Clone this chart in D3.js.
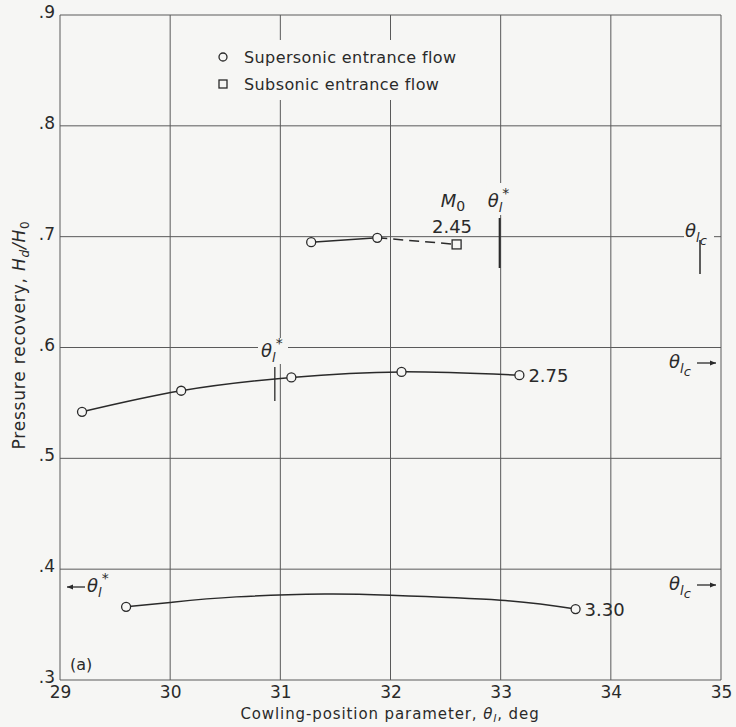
<!DOCTYPE html>
<html>
<head>
<meta charset="utf-8">
<script src="https://cdn.jsdelivr.net/npm/d3@7"></script>
<style>
  body { margin: 0; background: #f6f6f4; }
  svg { display: block; font-family: "DejaVu Sans", sans-serif; }
  .grid line { stroke: #5a5a5a; stroke-width: 1; }
  .lbl { fill: #2a2a2a; }
</style>
</head>
<body>
<script>
// axis ticks
var xTicks = [29, 30, 31, 32, 33, 34, 35];
var yTicks = [0.3, 0.4, 0.5, 0.6, 0.7, 0.8, 0.9];

// M0 = 2.45
var m245Theta = [31.28, 31.88];
var m245Rec = [0.695, 0.699];
var m245SubTheta = [32.6];
var m245SubRec = [0.693];

// M0 = 2.75
var m275Theta = [29.2, 30.1, 31.1, 32.1, 33.17];
var m275Rec = [0.542, 0.561, 0.573, 0.578, 0.575];

// M0 = 3.30 (test points and faired curve)
var m330Theta = [29.6, 33.68];
var m330Rec = [0.366, 0.364];
var m330FairTheta = [29.6, 30.0, 30.6, 31.4, 32.0, 33.0, 33.68];
var m330FairRec = [0.366, 0.370, 0.375, 0.3775, 0.3765, 0.372, 0.364];

var width = 736, height = 727;
var bg = "#f6f6f4";

var x = d3.scaleLinear().domain([29, 35]).range([60, 721]);
var y = d3.scaleLinear().domain([0.3, 0.9]).range([680, 15]);

var svg = d3.select("body").append("svg")
    .attr("width", width)
    .attr("height", height);

svg.append("rect").attr("width", width).attr("height", height).attr("fill", bg);

// grid
var grid = svg.append("g").attr("class", "grid");
grid.selectAll(".gx").data(xTicks).enter().append("line")
    .attr("x1", d => x(d)).attr("x2", d => x(d))
    .attr("y1", y(0.3)).attr("y2", y(0.9));
grid.selectAll(".gy").data(yTicks).enter().append("line")
    .attr("x1", x(29)).attr("x2", x(35))
    .attr("y1", d => y(d)).attr("y2", d => y(d));

// axes (labels only, frame comes from the grid)
var xAxis = svg.append("g")
    .attr("transform", "translate(0," + y(0.3) + ")")
    .call(d3.axisBottom(x).tickValues(xTicks).tickSize(0).tickPadding(6).tickFormat(d3.format("d")));
var yAxis = svg.append("g")
    .attr("transform", "translate(" + x(29) + ",0)")
    .call(d3.axisLeft(y).tickValues(yTicks).tickSize(0).tickPadding(5)
        .tickFormat(d => d3.format(".1f")(d).replace(/^0/, "")));
svg.selectAll(".domain").remove();
svg.selectAll(".tick text").attr("font-size", 17).attr("fill", "#2a2a2a")
    .attr("font-family", "DejaVu Sans, sans-serif");
xAxis.selectAll(".tick text").attr("dy", "0.72em");
yAxis.selectAll(".tick text").attr("dy", "0.15em");

// axis titles
var xt = svg.append("text").attr("class", "lbl")
    .attr("x", 390).attr("y", 719).attr("text-anchor", "middle").attr("font-size", 15)
    .attr("letter-spacing", 0.9);
xt.append("tspan").text("Cowling-position parameter, ");
xt.append("tspan").attr("font-style", "italic").text("θ");
xt.append("tspan").attr("font-style", "italic").attr("font-size", 11).attr("dy", 3).text("l");
xt.append("tspan").attr("dy", -3).text(", deg");

var yt = svg.append("text").attr("class", "lbl")
    .attr("transform", "translate(25,335) rotate(-90)")
    .attr("text-anchor", "middle").attr("font-size", 17).attr("letter-spacing", 0.8);
yt.append("tspan").text("Pressure recovery, ");
yt.append("tspan").attr("font-style", "italic").text("H");
yt.append("tspan").attr("font-style", "italic").attr("font-size", 12).attr("dy", 4).text("d");
yt.append("tspan").attr("font-style", "italic").attr("dy", -4).text("/H");
yt.append("tspan").attr("font-size", 12).attr("dy", 4).text("0");

// legend
svg.append("rect").attr("x", 212).attr("y", 40).attr("width", 255).attr("height", 60).attr("fill", bg);
svg.append("circle").attr("cx", 223).attr("cy", 57).attr("r", 4)
    .attr("fill", bg).attr("stroke", "#2a2a2a").attr("stroke-width", 1.3);
svg.append("rect").attr("x", 219).attr("y", 80).attr("width", 8).attr("height", 8)
    .attr("fill", bg).attr("stroke", "#2a2a2a").attr("stroke-width", 1.3);
svg.append("text").attr("class", "lbl").attr("x", 244).attr("y", 63).attr("font-size", 16)
    .attr("letter-spacing", 0.4).text("Supersonic entrance flow");
svg.append("text").attr("class", "lbl").attr("x", 244).attr("y", 90).attr("font-size", 16)
    .attr("letter-spacing", 0.4).text("Subsonic entrance flow");

// curves
var line = d3.line().x(d => x(d[0])).y(d => y(d[1]));
var curveLine = d3.line().x(d => x(d[0])).y(d => y(d[1])).curve(d3.curveNatural);

function pairs(a, b) { return a.map((v, i) => [v, b[i]]); }

var p245 = pairs(m245Theta, m245Rec);
var p245s = pairs(m245SubTheta, m245SubRec);
var p275 = pairs(m275Theta, m275Rec);
var p330 = pairs(m330Theta, m330Rec);
var p330f = pairs(m330FairTheta, m330FairRec);

var curves = svg.append("g").attr("fill", "none").attr("stroke", "#2a2a2a").attr("stroke-width", 1.5);
curves.append("path").attr("d", line(p245));
curves.append("path").attr("d", line([p245[p245.length - 1], p245s[0]])).attr("stroke-dasharray", "10,6");
curves.append("path").attr("d", curveLine(p275));
curves.append("path").attr("d", curveLine(p330f));

// markers
var marks = svg.append("g").attr("fill", bg).attr("stroke", "#2a2a2a").attr("stroke-width", 1.3);
marks.selectAll(".c").data(p245.concat(p275, p330)).enter().append("circle")
    .attr("cx", d => x(d[0])).attr("cy", d => y(d[1])).attr("r", 4.5);
marks.selectAll(".s").data(p245s).enter().append("rect")
    .attr("x", d => x(d[0]) - 4.5).attr("y", d => y(d[1]) - 4.5)
    .attr("width", 9).attr("height", 9);

// Mach number labels
svg.append("text").attr("class", "lbl").attr("x", 453).attr("y", 207)
    .attr("text-anchor", "middle").attr("font-size", 18).attr("font-style", "italic")
    .text("M").append("tspan").attr("font-style", "normal").attr("font-size", 14).attr("dy", 4).text("0");
svg.append("text").attr("class", "lbl").attr("x", 452).attr("y", 233)
    .attr("text-anchor", "middle").attr("font-size", 18).text("2.45");
svg.append("text").attr("class", "lbl").attr("x", x(33.17) + 9).attr("y", y(0.575) + 7)
    .attr("font-size", 18).text("2.75");
svg.append("text").attr("class", "lbl").attr("x", x(33.68) + 9).attr("y", y(0.364) + 7)
    .attr("font-size", 18).text("3.30");

// theta annotations
function thetaLabel(g, px, py, sub2, star) {
    var t = g.append("text").attr("class", "lbl").attr("x", px).attr("y", py).attr("font-size", 18);
    t.append("tspan").attr("font-style", "italic").text("θ");
    t.append("tspan").attr("font-style", "italic").attr("font-size", 13).attr("dy", 5).text("l");
    if (sub2) t.append("tspan").attr("font-style", "italic").attr("font-size", 13).attr("dy", 3).text("c");
    if (star) t.append("tspan").attr("font-size", 14).attr("dy", -14).text("*");
    return t;
}

var ann = svg.append("g");
// 2.45 theta* label and mark
ann.append("rect").attr("x", x(33) - 14).attr("y", 183).attr("width", 32).attr("height", 32).attr("fill", bg);
thetaLabel(ann, x(33) - 13, 207, false, true);
ann.append("line").attr("x1", x(33) - 1).attr("x2", x(33) - 1).attr("y1", 218).attr("y2", 268)
    .attr("stroke", "#2a2a2a").attr("stroke-width", 2);
// 2.45 theta_lc
ann.append("rect").attr("x", 684).attr("y", 220).attr("width", 30).attr("height", 26).attr("fill", bg);
thetaLabel(ann, 685, 237, true, false);
ann.append("line").attr("x1", 700).attr("x2", 700).attr("y1", 240).attr("y2", 274)
    .attr("stroke", "#2a2a2a").attr("stroke-width", 1.5);

// 2.75 theta* label and mark
ann.append("rect").attr("x", 258).attr("y", 338).attr("width", 30).attr("height", 26).attr("fill", bg);
thetaLabel(ann, 261, 357, false, true);
ann.append("line").attr("x1", x(30.95)).attr("x2", x(30.95)).attr("y1", 367).attr("y2", 401)
    .attr("stroke", "#2a2a2a").attr("stroke-width", 1.3);

// arrows
function arrow(g, x1, x2, yy) {
    g.append("line").attr("x1", x1).attr("x2", x2).attr("y1", yy).attr("y2", yy)
        .attr("stroke", "#2a2a2a").attr("stroke-width", 1.3);
    var dir = x2 > x1 ? 1 : -1;
    g.append("path").attr("d", "M" + x2 + "," + yy + "l" + (-6 * dir) + ",-2.5l0,5z").attr("fill", "#2a2a2a");
}
thetaLabel(ann, 669, 368, true, false);
arrow(ann, 697, 716, 363);
thetaLabel(ann, 669, 590, true, false);
arrow(ann, 697, 716, 585);
arrow(ann, 85, 67, 587);
thetaLabel(ann, 87, 592, false, true);

// panel label
svg.append("text").attr("class", "lbl").attr("x", 70).attr("y", 670).attr("font-size", 16).text("(a)");
</script>
</body>
</html>
